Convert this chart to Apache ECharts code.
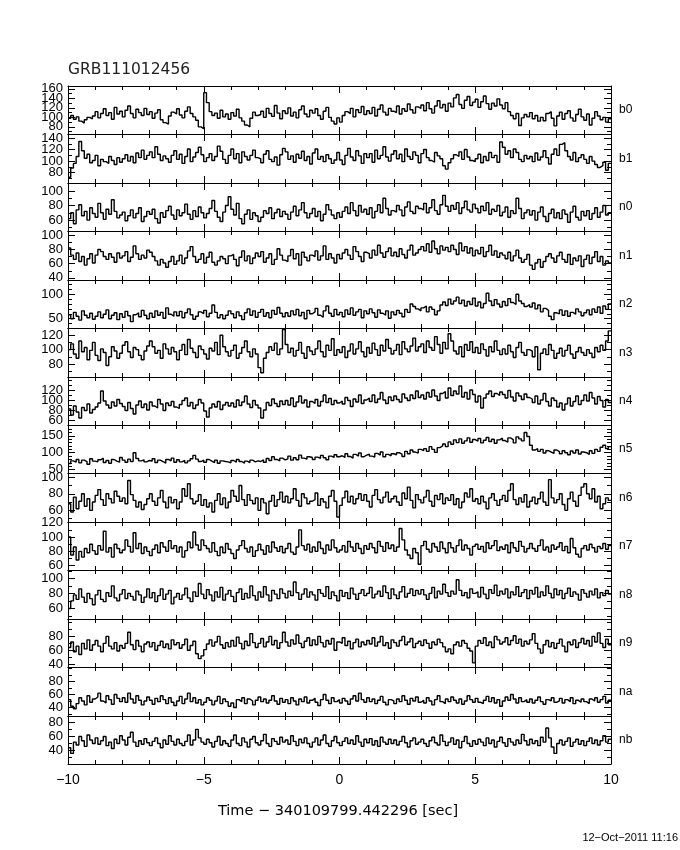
<!DOCTYPE html>
<html><head><meta charset="utf-8">
<script src="https://cdn.jsdelivr.net/npm/echarts@6/dist/echarts.min.js"></script>
<style>html,body{margin:0;padding:0;background:#fff}#c{width:680px;height:850px}</style>
</head><body><div id="c"></div>
<script>
// time binning
const T_START = -10, T_END = 10, BIN = 0.1;
const detNames = ['b0','b1','n0','n1','n2','n3','n4','n5','n6','n7','n8','n9','na','nb'];

const b0 = [98,104,96,101,92,88,95,100,97,103, 112,99,108,118,104,110,96,121,107,113, 101,115,124,108,99,117,110,104,119,106, 112,98,109,116,95,89,86,103,111,107, 118,105,99,113,122,108,101,94,80,76, 152,131,112,104,109,98,115,101,107,96, 110,103,117,99,92,84,80,98,111,104, 106,113,100,119,108,102,125,109,97,114, 108,120,103,111,99,116,124,107,101,115, 109,118,104,96,113,121,100,92,86,99, 90,104,112,108,119,101,116,110,123,106, 114,108,121,103,117,126,111,105,119,113, 110,124,107,118,113,128,116,109,122,119, 126,114,131,118,109,124,135,120,127,113, 130,122,141,148,127,119,136,144,125,132, 138,121,133,145,129,117,130,124,139,126, 118,131,112,104,97,108,83,99,106,101, 110,97,104,92,100,93,108,112,98,82, 103,111,96,108,114,99,92,106,117,101, 94,107,84,98,112,103,95,100,90,97];
const b1 = [72,88,96,108,134,118,105,112,97,101, 110,92,103,99,96,108,101,94,106,98, 104,111,100,108,97,114,106,119,103,110, 116,106,125,112,101,109,104,98,110,118, 103,112,96,108,121,99,107,115,124,111, 99,106,113,101,108,126,117,103,96,110, 121,104,113,97,116,108,102,110,119,106, 104,97,112,118,103,99,107,93,111,122, 116,103,109,98,112,105,117,101,108,95, 114,121,103,108,99,111,104,96,102,115, 102,94,110,122,107,101,118,109,96,113, 106,113,98,119,104,110,125,107,100,112, 118,104,112,99,121,108,103,116,110,97, 113,120,106,101,98,115,109,104,92,86, 97,104,111,108,116,103,120,107,101,99, 104,112,97,108,101,115,106,110,98,133, 124,112,118,106,121,115,103,99,110,104, 108,99,114,102,107,118,106,95,112,121, 110,129,132,118,108,102,115,99,106,111, 103,96,108,100,94,89,92,98,84,96];
const n0 = [62,70,55,74,81,66,72,60,77,69, 64,83,70,61,75,68,88,72,63,67, 71,59,66,74,63,69,77,58,65,72, 68,75,62,56,70,64,73,79,67,61, 74,66,70,82,68,61,73,65,78,70, 63,69,76,87,72,64,58,71,80,92, 75,67,83,62,55,68,74,61,70,66, 58,64,73,69,77,62,70,75,65,72, 68,61,71,79,66,74,84,70,63,69, 76,65,72,59,68,81,74,67,62,70, 64,72,78,69,84,73,66,80,71,75, 68,77,63,72,81,70,90,76,67,73, 71,80,74,66,78,85,72,69,79,76, 74,83,70,77,88,73,68,81,94,79, 72,80,75,84,69,77,86,74,71,82, 76,70,79,73,84,68,75,72,80,66, 71,78,64,73,69,90,76,62,70,74, 67,73,60,71,78,65,58,69,75,63, 70,62,74,68,57,71,79,64,60,72, 66,73,61,69,77,64,71,80,67,70];
const n1 = [82,72,66,75,63,70,58,67,74,61, 72,80,77,70,66,74,69,62,75,68, 71,77,63,69,85,74,66,72,68,79, 76,70,64,58,66,61,55,63,70,59, 64,72,60,68,78,84,70,62,66,74, 61,69,76,62,58,64,70,67,60,71, 73,66,57,69,78,64,71,60,68,75, 70,77,62,68,74,59,66,81,72,65, 63,71,80,67,74,58,76,69,64,72, 70,78,65,71,85,66,74,68,61,73, 67,75,80,72,66,84,77,70,63,76, 74,68,79,72,86,75,69,77,82,71, 76,70,81,73,68,79,86,72,75,80, 84,78,88,76,92,81,74,85,79,83, 77,86,80,73,89,78,84,75,82,71, 79,74,83,70,77,86,72,78,69,75, 72,67,76,64,71,79,68,62,66,73, 58,52,61,66,55,63,70,74,68,62, 71,76,66,62,73,59,68,64,71,56, 66,72,60,69,77,63,70,58,64,61];
const n2 = [58,50,63,55,47,66,57,52,61,49, 55,64,52,59,68,50,57,62,48,60, 53,65,56,44,58,62,54,67,57,50, 61,53,66,57,63,51,72,59,55,64, 56,65,52,62,70,58,49,55,64,60, 67,54,61,78,63,52,58,50,57,66, 60,52,64,56,48,62,70,57,66,53, 63,69,55,62,52,67,59,73,61,54, 62,55,66,58,69,56,63,50,67,60, 64,71,57,53,66,76,61,55,69,58, 63,54,68,59,72,57,64,69,52,66, 60,70,62,53,68,61,57,66,51,64, 58,67,61,54,69,63,80,75,70,66, 72,76,64,74,69,58,66,78,84,77, 90,80,86,94,81,88,76,85,79,92, 76,84,72,81,102,86,77,89,80,74, 85,77,91,83,79,100,86,81,75,79, 74,82,70,78,64,71,67,55,48,62, 60,68,57,66,55,63,59,70,64,56, 62,68,58,70,63,74,61,76,69,80];
const n3 = [100,108,94,88,112,97,103,86,99,110, 92,85,101,96,78,90,104,98,88,95, 106,111,97,89,103,100,92,86,98,105, 112,104,95,99,88,108,101,94,103,97, 86,99,107,93,114,102,96,89,105,100, 94,87,102,98,110,93,120,104,97,91, 99,106,88,95,103,112,97,90,101,94, 75,68,88,96,104,99,109,93,101,128, 107,96,102,91,99,110,95,88,104,98, 93,101,112,97,90,106,99,115,92,100, 96,104,89,98,108,94,101,111,97,90, 103,95,109,100,92,106,98,114,102,94, 99,107,93,111,101,97,105,116,98,104, 108,96,112,103,99,118,107,95,110,101, 122,112,98,94,104,90,107,99,111,96, 103,95,108,100,91,104,97,112,99,93, 101,94,106,97,89,103,110,96,92,100, 98,90,104,72,95,101,93,107,99,88, 95,102,91,99,106,94,88,97,103,96, 92,100,95,89,103,97,106,99,112,126];
const n4 = [82,70,88,76,64,85,79,92,74,81, 86,94,118,98,90,84,96,88,101,93, 87,79,95,83,72,90,98,85,92,80, 96,88,84,101,92,79,94,89,97,86, 83,91,99,104,88,95,83,90,101,94, 78,66,84,92,86,97,81,90,95,88, 94,86,100,89,96,108,92,85,99,90, 84,64,80,95,89,102,93,87,98,91, 99,90,104,87,96,108,94,100,86,97, 93,101,88,97,110,95,103,91,99,94, 98,92,105,99,87,102,96,110,93,100, 104,97,110,95,102,115,100,93,106,99, 108,101,96,112,104,99,110,103,118,105, 110,102,115,106,120,108,99,113,117,104, 124,109,118,112,128,106,115,102,120,111, 96,108,84,104,112,118,107,113,109,116, 111,104,119,106,98,114,108,101,112,105, 102,95,108,92,100,113,97,88,104,99, 86,94,80,92,104,88,97,108,91,99, 110,98,115,104,92,107,99,86,101,95];
const n5 = [68,76,72,80,70,78,74,66,82,75, 73,79,84,71,77,69,80,75,72,86, 78,72,81,74,100,83,76,79,73,77, 75,82,71,78,74,69,80,76,84,72, 79,73,77,70,76,82,92,81,74,78, 72,80,75,71,78,69,76,74,73,70, 77,72,80,74,69,75,71,78,73,76, 74,79,72,83,77,88,80,76,84,79, 82,90,78,85,79,93,84,81,88,86, 80,87,83,92,85,79,90,86,94,88, 91,86,97,89,84,95,90,99,88,93, 96,90,87,98,93,102,88,95,91,97, 94,100,96,89,104,97,108,102,99,110, 106,112,104,118,110,101,115,120,126,118, 132,125,138,130,141,128,135,144,131,139, 134,142,129,137,145,133,140,128,138,143, 136,131,144,139,129,147,141,135,160,148, 122,108,112,104,110,99,106,102,98,108, 103,97,106,100,94,105,99,108,96,102, 100,95,106,98,110,104,116,122,112,118];
const n6 = [68,58,76,62,71,80,65,74,60,70, 78,85,73,66,80,74,69,83,77,71, 75,68,96,79,72,64,70,61,67,74, 80,71,66,75,84,70,63,76,69,73, 62,70,86,77,92,74,68,71,79,66, 73,64,69,58,72,80,67,75,63,70, 84,77,71,90,73,66,79,72,68,75, 60,74,69,56,71,78,65,73,82,70, 77,69,74,86,72,65,80,75,68,71, 73,81,66,74,70,63,77,84,71,52, 66,75,83,70,77,68,74,80,72,79, 71,64,78,85,73,69,76,82,70,74, 77,70,66,81,74,88,72,63,79,73, 69,76,84,71,65,78,73,80,68,75, 72,79,67,74,63,70,81,76,86,71, 74,68,77,70,62,75,80,72,66,73, 78,71,84,92,73,67,75,70,79,64, 71,76,68,74,82,70,66,97,75,69, 73,80,67,60,74,82,71,65,78,88, 92,80,74,86,70,77,62,68,75,72];
const n7 = [100,75,86,68,80,72,84,78,90,81, 76,88,82,108,79,85,72,90,84,78, 82,96,87,79,106,84,91,77,86,80, 74,83,89,78,92,86,80,95,84,88, 79,86,72,81,93,85,107,89,82,96, 88,84,79,92,80,74,86,78,91,83, 77,70,82,88,95,84,79,86,73,81, 90,82,76,88,79,93,85,80,87,78, 84,91,79,76,86,110,88,82,90,79, 86,80,93,84,77,89,82,96,85,79, 82,88,79,94,86,80,91,84,77,88, 83,91,85,78,94,87,80,92,84,89, 80,86,112,96,82,75,70,84,78,62, 88,94,83,79,91,86,80,93,84,78, 92,85,79,88,96,82,89,84,75,87, 90,83,87,79,92,84,88,95,81,86, 83,89,78,92,85,80,94,87,79,84, 91,84,80,88,96,82,86,79,89,83, 86,92,81,87,78,98,85,76,72,84, 88,82,90,85,79,87,84,91,83,88];
const n8 = [60,70,78,72,86,75,68,80,73,65, 78,84,72,69,81,76,90,74,70,79, 85,73,80,76,71,83,78,68,75,86, 74,81,69,77,86,72,79,84,66,75, 80,72,78,87,74,69,82,76,93,79, 73,85,78,70,82,75,88,71,79,84, 76,69,81,86,72,80,74,90,77,71, 82,75,89,78,70,84,79,73,86,80, 74,83,77,95,81,72,79,86,75,82, 78,71,85,80,76,89,73,82,77,70, 84,76,81,73,87,79,72,80,85,77, 80,88,74,79,83,76,90,81,73,86, 78,73,82,89,75,80,86,77,84,79, 85,78,72,80,88,74,83,79,92,81, 76,83,79,98,84,77,81,74,86,80, 82,75,88,79,73,85,80,91,77,83, 79,86,74,82,78,89,76,81,85,73, 84,79,88,75,82,77,90,80,74,86, 78,84,73,80,87,76,82,79,71,85, 80,75,83,78,86,74,81,77,84,79];
const n9 = [64,72,58,66,54,70,62,75,60,68, 74,66,58,70,80,66,62,71,59,67, 63,70,86,68,61,74,66,58,69,72, 65,71,60,67,73,64,69,62,75,68, 71,63,68,76,60,67,73,55,48,52, 61,69,75,66,72,80,68,63,71,65, 74,66,79,70,62,73,67,84,71,64, 70,77,65,72,80,68,74,63,71,86, 72,66,75,69,82,70,64,73,78,67, 75,68,80,71,65,74,69,77,60,72, 70,78,67,73,62,71,76,65,72,68, 74,69,78,66,72,80,67,71,63,75, 71,66,74,80,68,72,77,64,70,73, 67,75,70,63,72,68,76,71,65,58, 62,55,68,72,66,74,70,63,59,42, 66,74,70,78,67,72,64,80,75,69, 72,78,68,74,81,70,76,66,73,69, 75,84,70,62,56,68,74,65,71,63, 70,76,66,58,72,68,75,64,71,77, 69,74,66,80,72,85,70,64,76,68];
const na = [52,42,38,46,55,50,44,58,48,53, 56,62,50,47,58,52,45,60,54,49, 55,48,62,53,47,58,51,44,50,56, 51,45,54,49,58,52,46,55,48,43, 50,57,46,53,62,49,55,47,52,44, 48,55,51,44,50,57,46,53,49,42, 47,40,52,49,55,46,53,50,44,51, 56,49,53,47,51,58,50,45,54,48, 52,46,55,50,44,53,49,56,47,51, 54,48,43,52,60,51,46,55,49,52, 47,54,50,45,53,58,50,62,52,48, 55,49,53,46,51,57,48,44,52,50, 46,53,49,58,51,45,54,50,56,48, 51,47,55,50,44,52,58,49,46,53, 49,56,51,47,53,45,50,58,52,48, 54,48,46,51,57,49,55,47,52,42, 50,56,51,60,53,47,55,49,52,48, 53,47,51,56,49,45,52,50,55,48, 50,54,47,52,49,55,46,51,48,53, 49,46,53,50,55,48,52,57,47,51];
const nb = [44,36,52,48,60,54,46,62,55,50, 58,49,54,60,47,52,43,56,50,61, 55,48,59,66,52,46,54,49,57,51, 47,53,58,50,44,55,49,61,53,48, 56,50,47,53,62,48,55,70,58,52, 49,56,51,45,53,60,48,54,50,46, 55,62,50,47,58,52,45,56,60,51, 48,54,63,50,46,57,53,49,59,52, 55,49,61,53,47,56,51,58,50,45, 52,58,48,55,62,50,46,54,60,51, 47,53,58,50,55,49,61,52,46,56, 51,57,48,54,46,59,52,49,56,50, 55,48,53,60,51,45,54,58,49,52, 56,50,46,54,59,51,48,62,53,47, 52,58,49,55,44,53,60,50,46,54, 49,56,52,47,58,50,55,45,53,59, 51,46,57,52,48,55,50,63,54,48, 56,50,54,47,59,52,72,58,45,36, 50,55,48,53,58,46,52,56,49,54, 47,53,58,50,55,48,54,61,52,56];
const seriesValues = [b0,b1,n0,n1,n2,n3,n4,n5,n6,n7,n8,n9,na,nb];

// y-axis extents and tick labels per panel
const yMins = [65, 62, 45, 37, 31, 62, 50, 40, 46, 54, 46, 36, 27, 21];
const yMaxs = [166,147,111,106,129,130,146,182,105,121,111,105,102, 89];
const yTickLabels = [[80,100,120,140,160],[80,100,120,140],[60,80,100],[40,60,80,100],[50,100],[80,100,120],[60,80,100,120],[50,100,150],[60,80,100],[60,80,100,120],[60,80,100],[40,60,80],[40,60,80],[40,60,80]];
const yMinorSteps = [10,10,10,10,10,10,10,10,10,10,10,10,10,10];
const xTickLabels = [-10,-5,0,5,10];

const chart = echarts.init(document.getElementById('c'), null, {renderer:'canvas'});
const LEFT = 68, RIGHT_X = 611, TOP = 86, BOTTOM = 764;
const N = detNames.length;
const panelH = (BOTTOM - TOP) / N;
const grids = [], xAxes = [], yAxes = [], series = [], graphics = [];
const FONT = 'Liberation Sans';
const minus = v => (v < 0 ? '\u2212' + (-v) : String(v));

for (let i = 0; i < N; i++) {
  const top = Math.round(TOP + i * panelH);
  const bot = Math.round(TOP + (i + 1) * panelH);
  grids.push({left: LEFT, top: top, width: RIGHT_X - LEFT, height: bot - top, show: false});
  const xBase = {
    gridIndex: i, type: 'value', min: T_START, max: T_END, interval: 5,
    axisLine: {show: true, onZero: false, lineStyle: {color: '#000', width: 1}},
    axisTick: {show: true, inside: true, length: 7, lineStyle: {color: '#000', width: 1}},
    minorTick: {show: true, splitNumber: 5, length: 4, lineStyle: {color: '#000', width: 1}},
    splitLine: {show: false}, minorSplitLine: {show: false}
  };
  xAxes.push(Object.assign({}, xBase, {
    position: 'bottom',
    axisLabel: {show: i === N - 1, customValues: xTickLabels, formatter: minus, margin: 9,
      showMinLabel: true, showMaxLabel: true, hideOverlap: false,
      fontFamily: FONT, fontSize: 14, color: '#000'}
  }));
  xAxes.push(Object.assign({}, xBase, {position: 'top', axisLabel: {show: false}}));

  const mn = yMins[i], mx = yMaxs[i], labs = yTickLabels[i];
  const minor = [];
  const st = yMinorSteps[i];
  for (let v = Math.ceil(mn / st) * st; v <= mx; v += st) if (labs.indexOf(v) < 0) minor.push(v);
  const yBase = {gridIndex: i, type: 'value', min: mn, max: mx, splitLine: {show: false}};
  yAxes.push(Object.assign({}, yBase, {
    position: 'left',
    axisLine: {show: true, onZero: false, lineStyle: {color: '#000', width: 1}},
    axisTick: {show: true, inside: true, length: 7, customValues: labs, lineStyle: {color: '#000'}},
    axisLabel: {show: false}
  }));
  yAxes.push(Object.assign({}, yBase, {
    position: 'right',
    axisLine: {show: true, onZero: false, lineStyle: {color: '#000', width: 1}},
    axisTick: {show: true, inside: true, length: 7, customValues: labs, lineStyle: {color: '#000'}},
    axisLabel: {show: false}
  }));
  yAxes.push(Object.assign({}, yBase, {
    position: 'left', axisLine: {show: false, onZero: false},
    axisTick: {show: true, inside: true, length: 4, customValues: minor, lineStyle: {color: '#000'}},
    axisLabel: {show: false}
  }));
  yAxes.push(Object.assign({}, yBase, {
    position: 'right', axisLine: {show: false, onZero: false},
    axisTick: {show: true, inside: true, length: 4, customValues: minor, lineStyle: {color: '#000'}},
    axisLabel: {show: false}
  }));

  const vals = seriesValues[i];
  const pts = vals.map((v, k) => [T_START + k * BIN, v]);
  pts.push([T_END, vals[vals.length - 1]]);
  series.push({
    type: 'line', xAxisIndex: 2 * i, yAxisIndex: 4 * i, data: pts, step: 'end',
    symbol: 'none', silent: true, clip: true,
    lineStyle: {color: '#000', width: 1.4}
  });

  graphics.push({type: 'text', x: 619, y: (top + bot) / 2,
    style: {text: detNames[i], fontFamily: FONT, fontSize: 12, fill: '#000', verticalAlign: 'middle'}});
}

graphics.push({type: 'text', x: 68, y: 70,
  style: {text: 'GRB111012456', fontFamily: 'DejaVu Sans', fontSize: 15.5, fill: '#222', verticalAlign: 'middle'}});
graphics.push({type: 'text', x: 338, y: 811,
  style: {text: 'Time \u2212 340109799.442296 [sec]', fontFamily: 'DejaVu Sans', fontSize: 14.5, fill: '#000', align: 'center', verticalAlign: 'middle'}});
graphics.push({type: 'text', x: 678, y: 838,
  style: {text: '12\u2212Oct\u22122011 11:16', fontFamily: FONT, fontSize: 11, fill: '#000', align: 'right', verticalAlign: 'middle'}});

chart.setOption({
  animation: false,
  backgroundColor: '#fff',
  grid: grids, xAxis: xAxes, yAxis: yAxes, series: series, graphic: graphics
});

// y tick labels placed through the axes' own scales (overlapping allowed, as in the original)
const labelGraphics = [];
for (let i = 0; i < N; i++) {
  yTickLabels[i].forEach(v => {
    const py = chart.convertToPixel({gridIndex: i}, [0, v])[1];
    labelGraphics.push({type: 'text', x: LEFT - 5, y: py,
      style: {text: String(v), fontFamily: FONT, fontSize: 13, fill: '#000', align: 'right', verticalAlign: 'middle'}});
  });
}
chart.setOption({graphic: graphics.concat(labelGraphics)});
</script>
</body></html>
